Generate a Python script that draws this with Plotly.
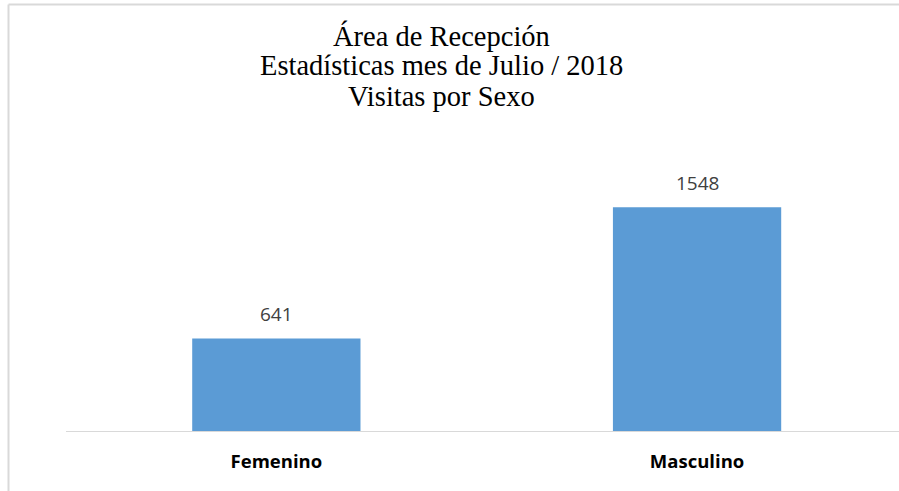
import plotly.graph_objects as go

categories = ["Femenino", "Masculino"]
values = [641, 1548]
title_lines = ["Área de Recepción", "Estadísticas mes de Julio / 2018", "Visitas por Sexo"]

W, H = 899, 491
ml, mr, mt, mb = 66, 0, 142, 60
plot_w = W - ml - mr
plot_h = H - mt - mb

fig = go.Figure(go.Bar(
    x=categories, y=values, width=0.4,
    marker=dict(color="#5B9BD5", line=dict(width=0)),
    hoverinfo="skip",
))

annotations = []
for c, v in zip(categories, values):
    annotations.append(dict(
        x=c, y=v, xref="x", yref="y", text=str(v), showarrow=False,
        yanchor="bottom", yshift=9,
        font=dict(family="Open Sans", size=19, color="#404040"),
    ))

mids_px = [36, 66, 96]
for line, ypx in zip(title_lines, mids_px):
    annotations.append(dict(
        x=(441 - ml) / plot_w, y=(H - mb - ypx) / plot_h,
        xref="paper", yref="paper", text=line, showarrow=False,
        xanchor="center", yanchor="middle",
        font=dict(family="Liberation Serif", size=28.5, color="#000000"),
    ))

bx = (8.5 - ml) / plot_w
by = (H - mb - 4.5) / plot_h
border = dict(color="#D9D9D9", width=2)

fig.update_layout(
    width=W, height=H,
    margin=dict(l=ml, r=mr, t=mt, b=mb, pad=0),
    paper_bgcolor="white", plot_bgcolor="white",
    showlegend=False,
    annotations=annotations,
    shapes=[
        dict(type="line", xref="paper", yref="paper", x0=bx, x1=bx, y0=by, y1=-0.3,
             line=border, layer="above"),
        dict(type="line", xref="paper", yref="paper", x0=bx, x1=1.05, y0=by, y1=by,
             line=border, layer="above"),
    ],
    xaxis=dict(
        range=[-0.5, 1.48], showgrid=False, zeroline=False,
        showline=True, linecolor="#D9D9D9", linewidth=1,
        ticks="", ticklabelstandoff=14,
        tickfont=dict(family="Open Sans", size=18.5, color="#000000", weight="bold"),
        fixedrange=True,
    ),
    yaxis=dict(
        range=[0, 2000], showgrid=False, zeroline=False, showline=False,
        showticklabels=False, ticks="", fixedrange=True,
    ),
)

fig.write_html(
    "out.html",
    config={"displayModeBar": False},
    post_script=(
        "document.documentElement.style.overflow='hidden';"
        "document.body.style.margin='0';document.body.style.overflow='hidden';"
    ),
)
